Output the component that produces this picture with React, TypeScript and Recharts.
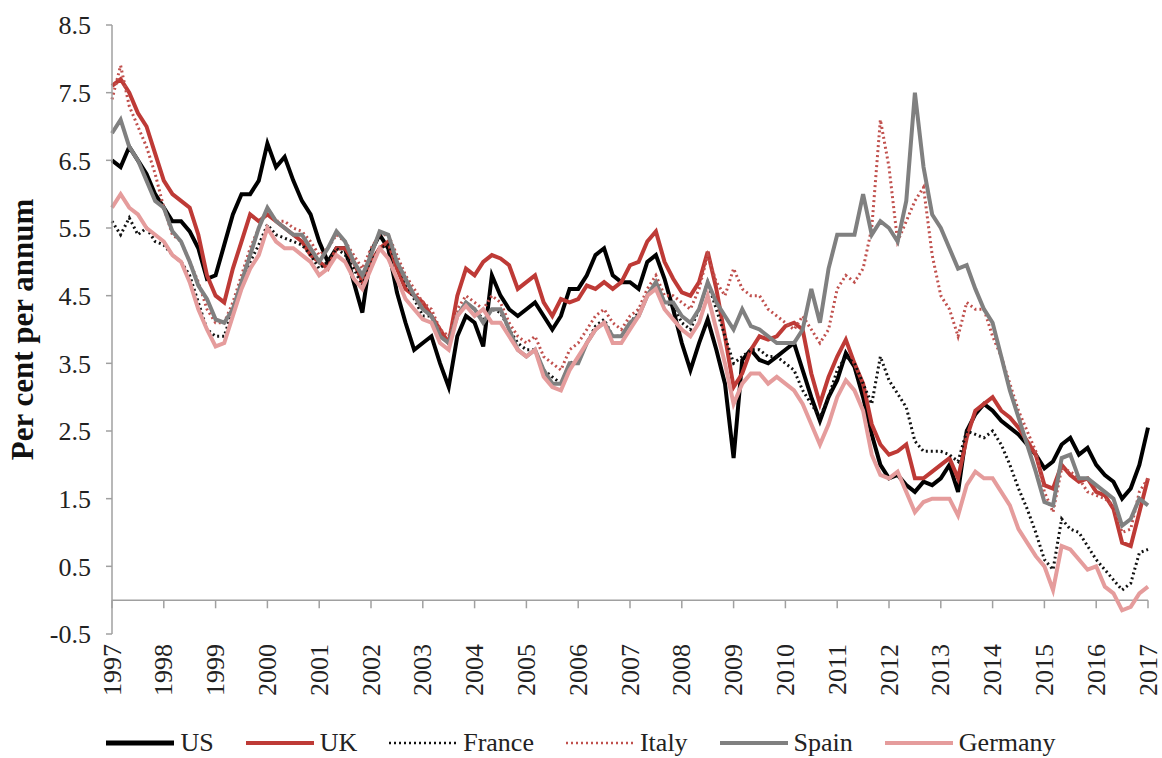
import React from 'react';
import { LineChart, Line, XAxis, YAxis, ReferenceLine, Legend } from 'recharts';

const FONT = '"Liberation Serif", "Times New Roman", serif';

// Year ticks (x axis)
const years = [1997, 1998, 1999, 2000, 2001, 2002, 2003, 2004, 2005, 2006, 2007, 2008, 2009, 2010, 2011, 2012, 2013, 2014, 2015, 2016, 2017];
// Observation months within each year (every two months)
const periodMonths = [0, 2, 4, 6, 8, 10];
// Y axis ticks
const yTicks = [-0.5, 0.5, 1.5, 2.5, 3.5, 4.5, 5.5, 6.5, 7.5, 8.5];

const us = [
  6.5, 6.4, 6.7, 6.5, 6.3, 6.0,
  5.8, 5.6, 5.6, 5.45, 5.2, 4.75,
  4.8, 5.25, 5.7, 6.0, 6.0, 6.2,
  6.75, 6.4, 6.55, 6.2, 5.9, 5.7,
  5.3, 5.0, 5.2, 5.2, 4.7, 4.25,
  5.15, 5.4, 5.2, 4.55, 4.1, 3.7,
  3.8, 3.9, 3.5, 3.15, 3.9, 4.2,
  4.1, 3.75, 4.8, 4.5, 4.3, 4.2,
  4.3, 4.4, 4.2, 4.0, 4.2, 4.6,
  4.6, 4.8, 5.1, 5.2, 4.8, 4.7,
  4.7, 4.6, 5.0, 5.1, 4.75, 4.3,
  3.8, 3.4, 3.8, 4.15, 3.7, 3.2,
  2.1, 3.55, 3.7, 3.55, 3.5, 3.6,
  3.7, 3.8, 3.4, 3.0, 2.65, 3.0,
  3.25, 3.65, 3.45, 3.0, 2.45, 2.0,
  1.8, 1.85, 1.7, 1.6, 1.75, 1.7,
  1.8, 2.0, 1.6, 2.5, 2.75, 2.9,
  2.8, 2.65, 2.55, 2.45, 2.3, 2.15,
  1.95, 2.05, 2.3, 2.4, 2.15, 2.25,
  2.0, 1.85, 1.75, 1.5, 1.65, 2.0,
  2.55,
];

const uk = [
  7.6, 7.7, 7.5, 7.2, 7.0, 6.6,
  6.2, 6.0, 5.9, 5.8, 5.4, 4.8,
  4.5, 4.4, 4.9, 5.3, 5.7, 5.6,
  5.7, 5.6, 5.5, 5.4, 5.3, 5.1,
  5.0, 4.9, 5.2, 5.2, 5.0, 4.7,
  5.0, 5.2, 5.3, 4.9, 4.6, 4.5,
  4.4, 4.2, 4.0, 3.8, 4.5, 4.9,
  4.8, 5.0, 5.1, 5.05, 4.95, 4.6,
  4.7, 4.8, 4.4, 4.2, 4.45, 4.4,
  4.45, 4.65, 4.6, 4.7, 4.6, 4.7,
  4.95, 5.0, 5.3, 5.45, 5.0, 4.75,
  4.55, 4.5, 4.7, 5.15, 4.6, 3.9,
  3.15, 3.35, 3.7, 3.9, 3.85, 3.9,
  4.05, 4.1, 4.0, 3.35, 2.9, 3.3,
  3.6, 3.85, 3.5, 3.2, 2.6, 2.3,
  2.15, 2.2, 2.3, 1.8, 1.8, 1.9,
  2.0, 2.1, 1.8, 2.4, 2.8, 2.9,
  3.0, 2.8, 2.7, 2.55, 2.35, 2.15,
  1.7, 1.65, 2.0, 1.85, 1.75, 1.8,
  1.6, 1.55, 1.35, 0.85, 0.8, 1.3,
  1.8,
];

const france = [
  5.6, 5.4, 5.65, 5.4, 5.5, 5.3,
  5.25, 5.1, 5.0, 4.8, 4.4, 4.0,
  3.9, 3.9, 4.3, 4.6, 5.0, 5.25,
  5.55, 5.4, 5.35, 5.3, 5.25, 5.1,
  4.9, 5.0, 5.2, 5.1, 4.9, 4.65,
  5.0, 5.2, 5.25, 5.0, 4.7, 4.45,
  4.2, 4.2, 3.9, 3.8, 4.2, 4.4,
  4.3, 4.15, 4.3, 4.25, 4.0, 3.8,
  3.7, 3.7, 3.4, 3.3, 3.2, 3.5,
  3.55, 3.8, 4.05, 4.15, 3.9, 3.9,
  4.1, 4.25, 4.5, 4.7, 4.4, 4.35,
  4.1, 4.0, 4.3, 4.7, 4.3, 3.9,
  3.5, 3.6, 3.7, 3.7, 3.6, 3.6,
  3.5, 3.4, 3.1, 2.9, 2.7, 3.0,
  3.4, 3.6, 3.5, 3.2, 2.9, 3.6,
  3.25, 3.05, 2.85, 2.35, 2.2, 2.2,
  2.2, 2.15, 2.05, 2.5, 2.45, 2.4,
  2.5, 2.3, 2.0, 1.65, 1.35, 1.0,
  0.6, 0.45, 1.2, 1.05, 1.0, 0.8,
  0.6, 0.45, 0.3, 0.15, 0.25, 0.7,
  0.75,
];

const italy = [
  7.4, 7.9, 7.3, 7.0, 6.7, 6.3,
  5.8, 5.4, 5.3, 5.0, 4.7, 4.3,
  4.1, 4.1, 4.4, 4.8, 5.2, 5.5,
  5.8, 5.6, 5.6, 5.5, 5.45, 5.3,
  5.1, 5.2, 5.4, 5.3, 5.1, 4.9,
  5.2, 5.4, 5.4, 5.1, 4.8, 4.6,
  4.4, 4.3, 4.0, 3.9, 4.3, 4.5,
  4.4, 4.3, 4.5, 4.4, 4.1, 3.9,
  3.8, 3.9, 3.6, 3.5, 3.4, 3.7,
  3.8, 4.0, 4.2, 4.3, 4.1, 4.0,
  4.2, 4.3, 4.6, 4.8, 4.5, 4.5,
  4.4, 4.3, 4.6, 5.1, 4.7, 4.5,
  4.9, 4.6, 4.5, 4.5, 4.3, 4.2,
  4.1, 4.0, 4.2, 4.0, 3.8, 4.0,
  4.6, 4.8, 4.7, 4.9, 5.5, 7.1,
  6.4, 5.3, 5.6, 5.9, 6.1, 5.1,
  4.5, 4.3, 3.9, 4.4, 4.3, 4.3,
  3.9, 3.6, 3.2, 2.8, 2.5, 2.2,
  1.6, 1.3, 1.95, 1.9, 1.8, 1.6,
  1.55, 1.5, 1.4, 1.0, 1.05, 1.6,
  1.8,
];

const spain = [
  6.9, 7.1, 6.7, 6.5, 6.2, 5.9,
  5.8, 5.45, 5.3, 5.0, 4.65, 4.45,
  4.15, 4.1, 4.3, 4.7, 5.1, 5.5,
  5.8, 5.6, 5.5, 5.4, 5.4, 5.2,
  5.0, 5.2, 5.45, 5.3, 5.0, 4.8,
  5.1, 5.45, 5.4, 5.0, 4.75, 4.5,
  4.3, 4.2, 3.9, 3.8, 4.2, 4.4,
  4.3, 4.1, 4.3, 4.3, 4.0, 3.7,
  3.6, 3.7, 3.4, 3.2, 3.2, 3.5,
  3.5, 3.8, 4.0, 4.1, 3.9, 3.9,
  4.1, 4.2, 4.5, 4.7, 4.4, 4.4,
  4.2, 4.1, 4.3, 4.7, 4.4, 4.2,
  4.0, 4.3, 4.05, 4.0, 3.9, 3.8,
  3.8, 3.8, 4.0, 4.6, 4.1, 4.9,
  5.4, 5.4, 5.4, 6.0, 5.4, 5.6,
  5.5, 5.3, 5.9, 7.5, 6.4, 5.7,
  5.5, 5.2, 4.9, 4.95, 4.6, 4.3,
  4.1, 3.6, 3.1, 2.7, 2.3, 1.9,
  1.45, 1.4, 2.1, 2.15, 1.8, 1.8,
  1.7, 1.6, 1.5, 1.1, 1.2, 1.5,
  1.4,
];

const germany = [
  5.8, 6.0, 5.8, 5.7, 5.5, 5.4,
  5.3, 5.1, 5.0, 4.7, 4.3, 4.0,
  3.75, 3.8, 4.2, 4.6, 4.9, 5.1,
  5.5, 5.3, 5.2, 5.2, 5.1, 5.0,
  4.8, 4.9, 5.1, 5.0, 4.75, 4.6,
  4.9, 5.2, 5.05, 4.75, 4.45, 4.3,
  4.15, 4.1, 3.8, 3.7, 4.2, 4.35,
  4.2, 4.3, 4.1, 4.1, 3.9, 3.7,
  3.6, 3.7, 3.3, 3.15, 3.1, 3.4,
  3.6, 3.8, 4.0, 4.1, 3.8, 3.8,
  4.0, 4.2, 4.5, 4.6, 4.3, 4.15,
  4.0, 3.9, 4.1, 4.5, 4.0, 3.5,
  2.9, 3.2, 3.35, 3.35, 3.2, 3.3,
  3.2, 3.1, 2.9, 2.6, 2.3, 2.6,
  3.0, 3.25, 3.1, 2.8, 2.15, 1.85,
  1.8, 1.9, 1.6, 1.3, 1.45, 1.5,
  1.5, 1.5, 1.25, 1.7, 1.9, 1.8,
  1.8, 1.6, 1.4, 1.05, 0.85, 0.65,
  0.5, 0.15, 0.8, 0.75, 0.6, 0.45,
  0.5, 0.2, 0.1, -0.15, -0.1, 0.1,
  0.2,
];

type Series = { key: string; values: number[]; color: string; width: number; dash?: string; legendWidth: number };

const SERIES: Series[] = [
  { key: 'US', values: us, color: '#000000', width: 4, legendWidth: 5 },
  { key: 'UK', values: uk, color: '#BE3A36', width: 4, legendWidth: 4 },
  { key: 'France', values: france, color: '#111111', width: 3, dash: '2 3', legendWidth: 2.5 },
  { key: 'Italy', values: italy, color: '#C0504D', width: 3, dash: '2 3', legendWidth: 2.5 },
  { key: 'Spain', values: spain, color: '#808080', width: 4, legendWidth: 4 },
  { key: 'Germany', values: germany, color: '#E59C9C', width: 4, legendWidth: 4 },
];

const data = us.map((_, i) => {
  const row: Record<string, number> = {
    t: years[Math.floor(i / periodMonths.length)] + periodMonths[i % periodMonths.length] / 12,
  };
  SERIES.forEach((s) => {
    row[s.key] = s.values[i];
  });
  return row;
});

const YearTick = (props: any) => {
  const { x, y, payload } = props;
  return (
    <text
      x={x}
      y={y}
      transform={`rotate(-90, ${x}, ${y})`}
      textAnchor="end"
      dominantBaseline="central"
      fontFamily={FONT}
      fontSize={26}
      fill="#222"
    >
      {payload.value}
    </text>
  );
};

const YLabel = (props: any) => {
  const vb = props.viewBox || { x: 0, y: 0, width: 0, height: 0 };
  const cx = vb.x + 22;
  const cy = vb.y + vb.height / 2;
  return (
    <text
      x={cx}
      y={cy}
      transform={`rotate(-90, ${cx}, ${cy})`}
      textAnchor="middle"
      dominantBaseline="central"
      fontFamily={FONT}
      fontSize={31}
      fontWeight="bold"
      fill="#111"
    >
      Per cent per annum
    </text>
  );
};

const LegendContent = () => (
  <div
    style={{
      display: 'flex',
      justifyContent: 'center',
      alignItems: 'center',
      gap: 32,
      fontFamily: FONT,
      fontSize: 26,
      color: '#222',
      height: 30,
    }}
  >
    {SERIES.map((s) => (
      <div key={s.key} style={{ display: 'flex', alignItems: 'center' }}>
        <svg width={68} height={10}>
          <line x1={0} y1={5} x2={68} y2={5} stroke={s.color} strokeWidth={s.legendWidth} strokeDasharray={s.dash} />
        </svg>
        <span style={{ marginLeft: 6, lineHeight: '30px' }}>{s.key}</span>
      </div>
    ))}
  </div>
);

export default function App() {
  return (
    <div style={{ width: 1162, height: 758, background: '#fff' }}>
      <style>{'body{margin:0;background:#fff;}'}</style>
      <LineChart width={1162} height={758} data={data} margin={{ top: 25, right: 14, bottom: 0, left: 0 }}>
        <XAxis
          dataKey="t"
          type="number"
          domain={[1997, 2017]}
          ticks={years}
          interval={0}
          axisLine={false}
          tickLine={false}
          tickSize={0}
          tickMargin={10}
          height={94}
          tick={<YearTick />}
        />
        <YAxis
          type="number"
          domain={[-0.5, 8.5]}
          ticks={yTicks}
          interval={0}
          width={112}
          axisLine={{ stroke: '#A0A0A0', strokeWidth: 1.5 }}
          tickLine={{ stroke: '#A0A0A0', strokeWidth: 1.5 }}
          tickSize={6}
          tickMargin={15}
          tick={{ fontFamily: FONT, fontSize: 26, fill: '#222' }}
          tickFormatter={(v: number) => v.toFixed(1)}
          label={<YLabel />}
        />
        <ReferenceLine y={0} stroke="#A0A0A0" strokeWidth={1.5} />
        {years.map((yr) => (
          <ReferenceLine
            key={yr}
            segment={[
              { x: yr, y: 0 },
              { x: yr, y: -0.12 },
            ]}
            stroke="#A0A0A0"
            strokeWidth={1.5}
          />
        ))}
        {SERIES.map((s) => (
          <Line
            key={s.key}
            dataKey={s.key}
            type="linear"
            stroke={s.color}
            strokeWidth={s.width}
            strokeDasharray={s.dash}
            dot={false}
            activeDot={false}
            isAnimationActive={false}
          />
        ))}
        <Legend
          verticalAlign="bottom"
          height={30}
          content={<LegendContent />}
          wrapperStyle={{ left: 0, width: 1162, bottom: 0 }}
        />
      </LineChart>
    </div>
  );
}
